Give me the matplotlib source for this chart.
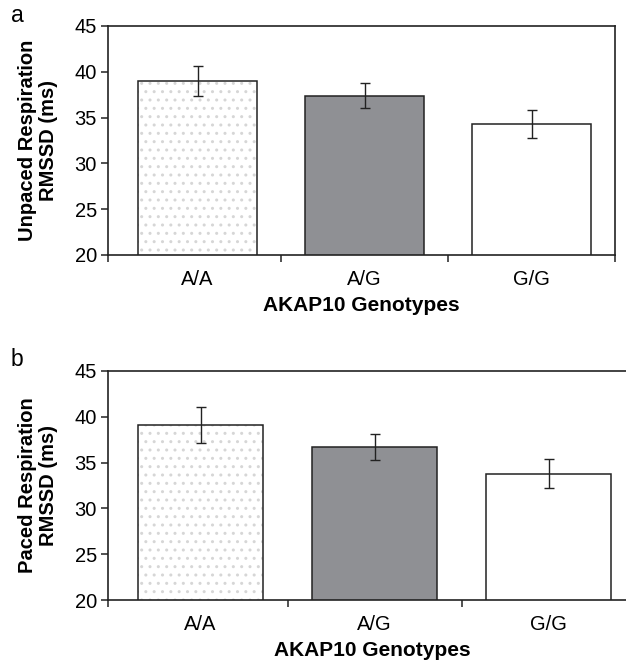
import matplotlib
matplotlib.use("Agg")
import matplotlib.pyplot as plt
import numpy as np

plt.rcParams['font.family'] = ['Liberation Sans', 'DejaVu Sans']

genotypes = ["A/A", "A/G", "G/G"]
unpaced_mean = [39.0, 37.4, 34.3]
unpaced_err = [1.65, 1.4, 1.5]
paced_mean = [39.1, 36.7, 33.8]
paced_err = [2.0, 1.4, 1.6]
ylabels = ["Unpaced Respiration\nRMSSD (ms)", "Paced Respiration\nRMSSD (ms)"]
panel_tags = ["a", "b"]
xlabel = "AKAP10 Genotypes"

fills = ["white", "#8f9094", "white"]


def draw_panel(ax, means, errs, ylab, xlo, width):
    x = np.arange(len(genotypes))
    # dotted fill for the first bar: hatch drawn in light grey, outline on top
    ax.bar(x[:1], means[:1], width, bottom=0, color="white",
           edgecolor="#d6d6d6", hatch="..", linewidth=0, zorder=2)
    ax.bar(x[1:], means[1:], width, color=fills[1:], linewidth=0, zorder=2)
    ax.bar(x, means, width, facecolor="none", edgecolor="#222222",
           linewidth=1.1, zorder=3)
    ax.errorbar(x, means, yerr=errs, fmt="none", ecolor="#222222",
                elinewidth=1.0, capsize=3.6, capthick=1.0, zorder=4)

    ax.set_ylim(20, 45)
    ax.set_yticks(np.arange(20, 46, 5))
    ax.set_xlim(xlo, 2.5)
    ax.set_xticks(x)
    ax.set_xticklabels(genotypes, fontsize=14.5)
    ax.set_xticks([xlo, 0.5, 1.5, 2.5], minor=True)
    ax.tick_params(axis="x", which="major", length=0, pad=11)
    ax.tick_params(axis="x", which="minor", length=5, width=1.1,
                   direction="out", color="#222222")
    ax.tick_params(axis="y", length=5, width=1.1, direction="out",
                   labelsize=14.5, color="#222222", pad=3)
    for s in ax.spines.values():
        s.set_linewidth(1.2)
        s.set_color("#222222")
    ax.set_ylabel(ylab, fontsize=14.5, fontweight="bold", labelpad=12,
                  linespacing=1.1)
    ax.set_xlabel(xlabel, fontsize=15, fontweight="bold", labelpad=5)


fig = plt.figure(figsize=(6.26, 6.66), dpi=100)
W, H = 626.0, 666.0

ax_a = fig.add_axes([108 / W, (H - 255) / H, 507 / W, 229 / H])
draw_panel(ax_a, unpaced_mean, unpaced_err, ylabels[0], -0.536, 0.713)

ax_b = fig.add_axes([108 / W, (H - 600) / H, 528 / W, 229 / H])
draw_panel(ax_b, paced_mean, paced_err, ylabels[1], -0.531, 0.717)

fig.text(11 / W, 1 - 22 / H, panel_tags[0], fontsize=16.5)
fig.text(11 / W, 1 - 366 / H, panel_tags[1], fontsize=16.5)

fig.savefig("out.png", dpi=100)
